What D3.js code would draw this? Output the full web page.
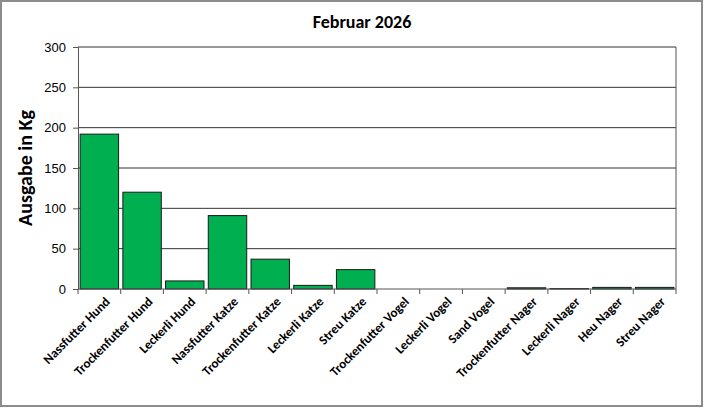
<!DOCTYPE html>
<html>
<head>
<meta charset="utf-8">
<script src="https://cdn.jsdelivr.net/npm/d3@7"></script>
<style>
  html, body { margin: 0; padding: 0; background: #fff; }
  svg { display: block; font-family: Carlito, Lato, "Open Sans", "Liberation Sans", sans-serif; }
</style>
</head>
<body>
<svg id="chart"></svg>
<script>
// data
var categories = ["Nassfutter Hund", "Trockenfutter Hund", "Leckerli Hund",
    "Nassfutter Katze", "Trockenfutter Katze", "Leckerli Katze", "Streu Katze",
    "Trockenfutter Vogel", "Leckerli Vogel", "Sand Vogel",
    "Trockenfutter Nager", "Leckerli Nager", "Heu Nager", "Streu Nager"];
var values = [192, 120, 10, 91, 37, 4.5, 24, 0, 0, 0, 1.5, 0.5, 2, 2];
var yTicks = [0, 50, 100, 150, 200, 250, 300];
var title = "Februar 2026";
var yTitle = "Ausgabe in Kg";

var width = 704, height = 408;
var margin = {top: 47, right: 28, bottom: 119, left: 78};

var svg = d3.select("#chart").attr("width", width).attr("height", height);

// outer frame
svg.append("rect")
    .attr("x", 1).attr("y", 1)
    .attr("width", width - 3).attr("height", height - 3)
    .attr("fill", "#fff").attr("stroke", "#8c8c8c").attr("stroke-width", 2);

var x = d3.scaleBand()
    .domain(categories)
    .range([margin.left, width - margin.right])
    .paddingInner(0.1).paddingOuter(0.05);

var y = d3.scaleLinear()
    .domain([0, 300])
    .range([height - margin.bottom, margin.top]);

// gridlines
svg.append("g").selectAll("line")
    .data(yTicks.filter(function(d) { return d > 0; }))
    .enter().append("line")
    .attr("x1", margin.left).attr("x2", width - margin.right)
    .attr("y1", function(d) { return y(d); })
    .attr("y2", function(d) { return y(d); })
    .attr("stroke", "#333").attr("stroke-width", 1);

// plot frame (right side)
svg.append("line")
    .attr("x1", width - margin.right).attr("x2", width - margin.right)
    .attr("y1", margin.top).attr("y2", height - margin.bottom)
    .attr("stroke", "#555");

// bars
svg.append("g").selectAll("rect")
    .data(values)
    .enter().append("rect")
    .attr("x", function(d, i) { return x(categories[i]); })
    .attr("width", x.bandwidth())
    .attr("y", function(d) { return y(d); })
    .attr("height", function(d) { return y(0) - y(d); })
    .attr("fill", "#00b050")
    .attr("stroke", "#1a1a1a").attr("stroke-width", 1);

// y axis
var yAxis = svg.append("g")
    .attr("transform", "translate(" + margin.left + ",0)")
    .call(d3.axisLeft(y).tickValues(yTicks).tickSize(5).tickPadding(7));
yAxis.select(".domain").attr("stroke", "#555");
yAxis.selectAll(".tick line").attr("stroke", "#555");
yAxis.selectAll("text").attr("font-size", 13).attr("fill", "#000");

// x axis with ticks between categories
var xAxisG = svg.append("g")
    .attr("transform", "translate(0," + y(0) + ")");
xAxisG.append("line")
    .attr("x1", margin.left).attr("x2", width - margin.right)
    .attr("stroke", "#555");
var bounds = d3.range(categories.length + 1).map(function(i) {
    return margin.left + (width - margin.left - margin.right) * i / categories.length;
});
xAxisG.selectAll(".sep")
    .data(bounds)
    .enter().append("line")
    .attr("x1", function(d) { return d; }).attr("x2", function(d) { return d; })
    .attr("y1", 0).attr("y2", 5)
    .attr("stroke", "#555");
xAxisG.selectAll(".lbl")
    .data(categories)
    .enter().append("text")
    .attr("transform", function(d) {
        return "translate(" + (x(d) + x.bandwidth() / 2 + 5) + ",7) rotate(-45)";
    })
    .attr("text-anchor", "end")
    .attr("font-size", 13).attr("font-weight", "bold")
    .attr("dy", "0.7em")
    .text(function(d) { return d; });

// titles
svg.append("text")
    .attr("x", 362).attr("y", 28)
    .attr("text-anchor", "middle")
    .attr("font-size", 18).attr("font-weight", "bold")
    .text(title);

svg.append("text")
    .attr("transform", "translate(32," + ((margin.top + height - margin.bottom) / 2) + ") rotate(-90)")
    .attr("text-anchor", "middle")
    .attr("font-size", 20).attr("font-weight", "bold")
    .text(yTitle);
</script>
</body>
</html>
